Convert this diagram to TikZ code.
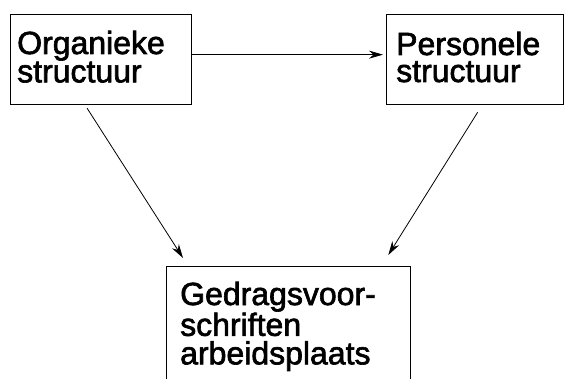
\documentclass[tikz,border=0pt]{standalone}
\usepackage{fontspec}
\setmainfont{Liberation Sans}
\newfontfamily\boxfont{Liberation Sans}[FakeBold=2]
\usetikzlibrary{arrows.meta}
\begin{document}
\begin{tikzpicture}[x=1pt,y=-1pt,
  box/.style={draw=black,line width=1.3pt,inner sep=0pt,anchor=north west},
  label/.style={anchor=base west,inner sep=0pt,text width=240pt,align=left,
    font=\boxfont\fontsize{32}{27}\selectfont},
  link/.style={line width=0.8pt,-{Stealth[length=14pt,width=8pt]}}]
\useasboundingbox (0,0) rectangle (564,379);
% the three boxes
\node[box,minimum width=181pt,minimum height=90pt] (b1) at (10,14) {};
\node[box,minimum width=177pt,minimum height=90pt] (b2) at (386,14) {};
\node[box,minimum width=244pt,minimum height=130pt] (b3) at (166,266) {};
% box texts
\node[label] (t1) at (17,54) {Organieke\\structuur};
\node[label] (t2) at (396,55) {Personele\\structuur};
\node[label,font=\boxfont\fontsize{32}{28.5}\selectfont] (t3) at (180,305)
  {Gedragsvoor-\\schriften\\arbeidsplaats};
% connectors
\draw[link,shorten >=3pt] ([yshift=5pt]b1.east) -- ([yshift=5pt]b2.west);
\draw[link] ([xshift=-14pt,yshift=-3pt]b1.south) -- ([xshift=17pt,yshift=8pt]b3.north west);
\draw[link] ([xshift=2.5pt,yshift=-7pt]b2.south) -- ([xshift=-23pt,yshift=11pt]b3.north east);
\end{tikzpicture}
\end{document}
